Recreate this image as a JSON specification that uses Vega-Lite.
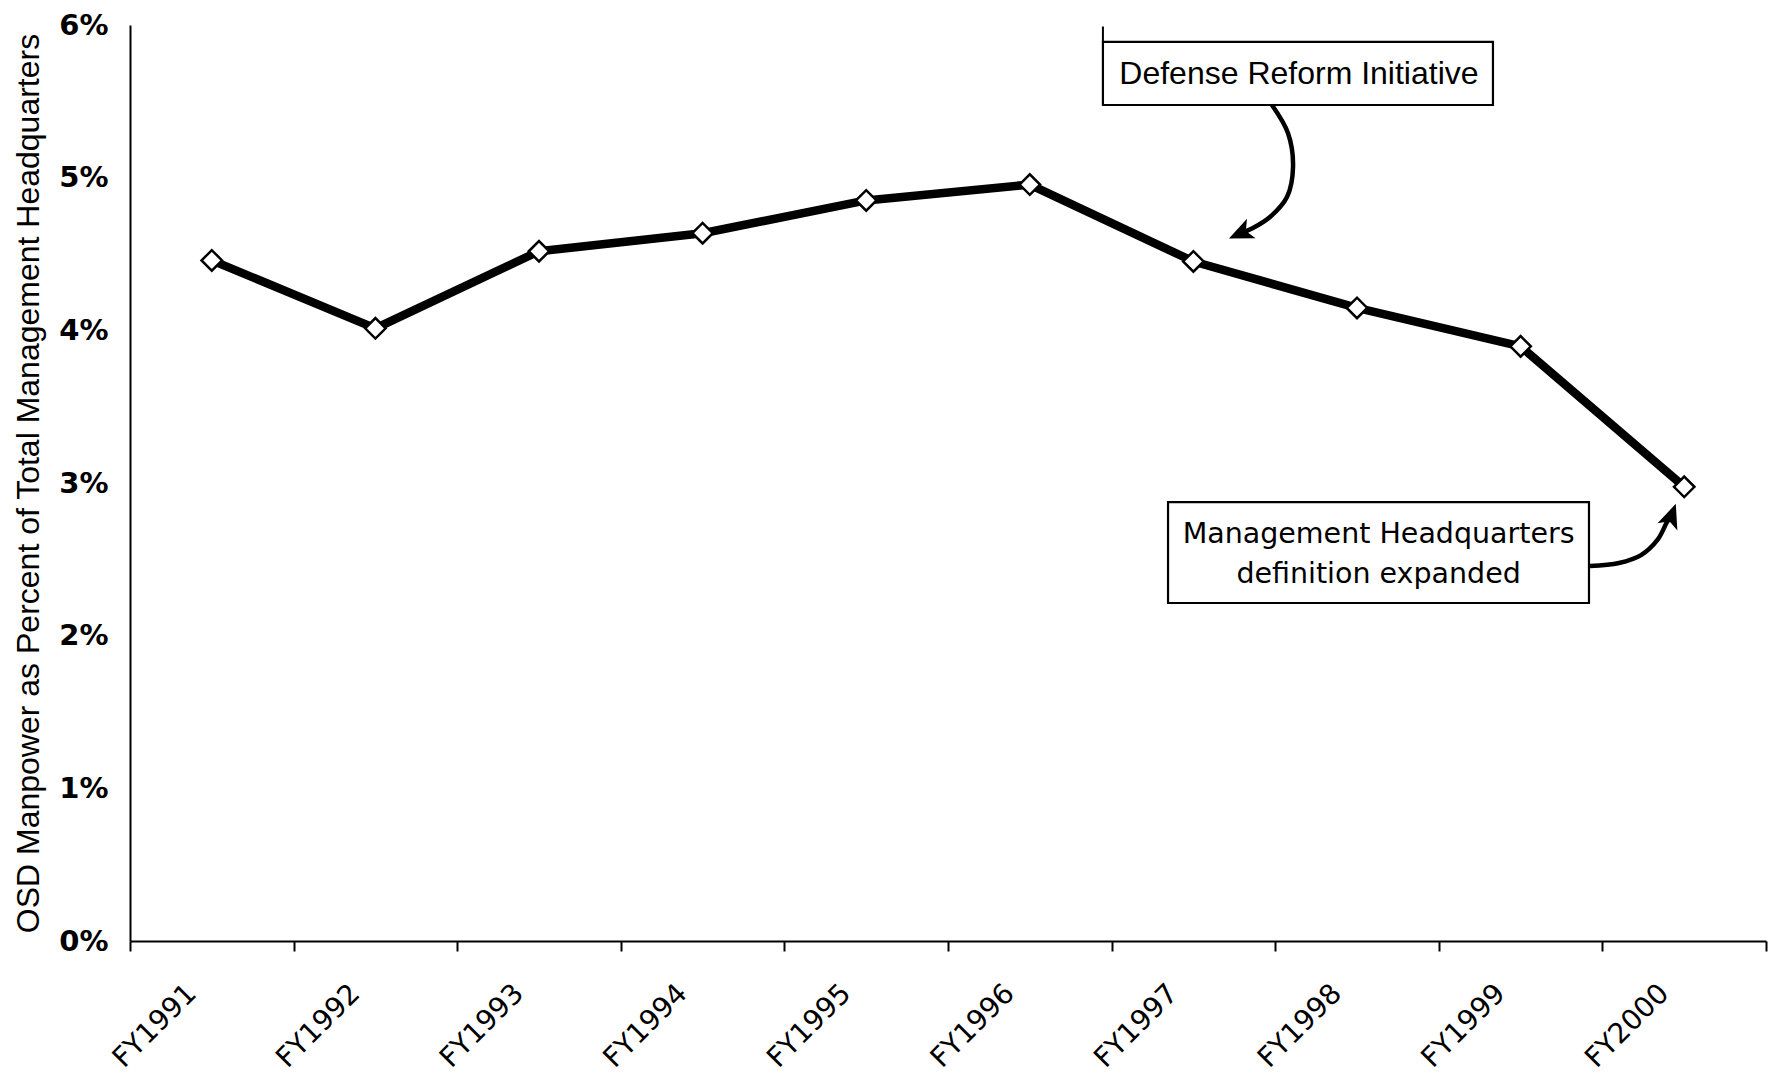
{
  "$schema": "https://vega.github.io/schema/vega-lite/v6.json",
  "width": 1636,
  "height": 916,
  "autosize": "none",
  "padding": {"left": 130, "top": 25, "right": 9, "bottom": 147},
  "background": "white",
  "config": {
    "view": {"stroke": null},
    "axis": {"grid": false, "domainColor": "black", "tickColor": "black", "labelColor": "black", "titleColor": "black"}
  },
  "datasets": {
    "share": [
      {"year": "FY1991", "pct": 0.04458},
      {"year": "FY1992", "pct": 0.04013},
      {"year": "FY1993", "pct": 0.04518},
      {"year": "FY1994", "pct": 0.04636},
      {"year": "FY1995", "pct": 0.04851},
      {"year": "FY1996", "pct": 0.04955},
      {"year": "FY1997", "pct": 0.04451},
      {"year": "FY1998", "pct": 0.04147},
      {"year": "FY1999", "pct": 0.03895},
      {"year": "FY2000", "pct": 0.02975}
    ],
    "boxes": [
      {"note": "dri", "x0": 5.947, "x1": 8.331, "y0": 0.05476, "y1": 0.05889},
      {"note": "mhq", "x0": 6.345, "x1": 8.918, "y0": 0.02214, "y1": 0.02875}
    ],
    "captions": [
      {"note": "dri", "tx": 7.145, "ty": 0.05679, "label": "Defense Reform Initiative"},
      {"note": "mhq", "tx": 7.632, "ty": 0.02666, "label": "Management Headquarters"},
      {"note": "mhq", "tx": 7.632, "ty": 0.02404, "label": "definition expanded"}
    ],
    "arrows": [
      {"note": "dri", "step": 1, "ax": 6.980, "ay": 0.05476},
      {"note": "dri", "step": 2, "ax": 7.078, "ay": 0.05292},
      {"note": "dri", "step": 3, "ax": 7.109, "ay": 0.05070},
      {"note": "dri", "step": 4, "ax": 7.072, "ay": 0.04873},
      {"note": "dri", "step": 5, "ax": 6.968, "ay": 0.04742},
      {"note": "dri", "step": 6, "ax": 6.864, "ay": 0.04670},
      {"note": "dri", "step": 7, "ax": 6.800, "ay": 0.04640},
      {"note": "mhq", "step": 1, "ax": 8.924, "ay": 0.02456},
      {"note": "mhq", "step": 2, "ax": 9.101, "ay": 0.02476},
      {"note": "mhq", "step": 3, "ax": 9.236, "ay": 0.02528},
      {"note": "mhq", "step": 4, "ax": 9.340, "ay": 0.02633},
      {"note": "mhq", "step": 5, "ax": 9.395, "ay": 0.02744},
      {"note": "mhq", "step": 6, "ax": 9.418, "ay": 0.02775}
    ],
    "heads": [
      {"note": "dri", "hx": 6.791, "hy": 0.04637},
      {"note": "mhq", "hx": 9.421, "hy": 0.02782}
    ],
    "edge": [
      {"ex": 5.947, "ey0": 0.05889, "ey1": 0.05990}
    ]
  },
  "layer": [
    {
      "layer": [
        {
          "data": {"name": "edge"},
          "mark": {"type": "rule", "color": "black", "strokeWidth": 2},
          "encoding": {
            "x": {"field": "ex", "type": "quantitative", "scale": {"domain": [0, 10], "nice": false, "zero": false}, "axis": null},
            "y": {"field": "ey0", "type": "quantitative"},
            "y2": {"field": "ey1"}
          }
        },
        {
          "data": {"name": "boxes"},
          "mark": {"type": "rect", "fill": "white", "stroke": "black", "strokeWidth": 2.2},
          "encoding": {
            "x": {"field": "x0", "type": "quantitative", "scale": {"domain": [0, 10], "nice": false, "zero": false}, "axis": null},
            "x2": {"field": "x1"},
            "y": {"field": "y0", "type": "quantitative"},
            "y2": {"field": "y1"}
          }
        },
        {
          "data": {"name": "captions"},
          "transform": [{"filter": "datum.note === 'dri'"}],
          "mark": {"type": "text", "font": "Liberation Sans", "fontSize": 32, "color": "black", "align": "center", "baseline": "middle"},
          "encoding": {
            "x": {"field": "tx", "type": "quantitative", "scale": {"domain": [0, 10], "nice": false, "zero": false}, "axis": null},
            "y": {"field": "ty", "type": "quantitative"},
            "text": {"field": "label"}
          }
        },
        {
          "data": {"name": "captions"},
          "transform": [{"filter": "datum.note === 'mhq'"}],
          "mark": {"type": "text", "font": "DejaVu Sans", "fontSize": 28.5, "color": "black", "align": "center", "baseline": "middle"},
          "encoding": {
            "x": {"field": "tx", "type": "quantitative", "scale": {"domain": [0, 10], "nice": false, "zero": false}, "axis": null},
            "y": {"field": "ty", "type": "quantitative"},
            "text": {"field": "label"}
          }
        },
        {
          "data": {"name": "arrows"},
          "mark": {"type": "line", "color": "black", "strokeWidth": 4.5, "interpolate": "catmull-rom"},
          "encoding": {
            "x": {"field": "ax", "type": "quantitative", "scale": {"domain": [0, 10], "nice": false, "zero": false}, "axis": null},
            "y": {"field": "ay", "type": "quantitative"},
            "detail": {"field": "note"},
            "order": {"field": "step"}
          }
        },
        {
          "data": {"name": "heads"},
          "transform": [{"filter": "datum.note === 'dri'"}],
          "mark": {"type": "point", "shape": "M0,-1L0.8,0.85L0,0.4L-0.8,0.85Z", "filled": true, "color": "black", "opacity": 1, "size": 700, "angle": 246},
          "encoding": {
            "x": {"field": "hx", "type": "quantitative", "scale": {"domain": [0, 10], "nice": false, "zero": false}, "axis": null},
            "y": {"field": "hy", "type": "quantitative"}
          }
        },
        {
          "data": {"name": "heads"},
          "transform": [{"filter": "datum.note === 'mhq'"}],
          "mark": {"type": "point", "shape": "M0,-1L0.8,0.85L0,0.4L-0.8,0.85Z", "filled": true, "color": "black", "opacity": 1, "size": 700, "angle": 20},
          "encoding": {
            "x": {"field": "hx", "type": "quantitative", "scale": {"domain": [0, 10], "nice": false, "zero": false}, "axis": null},
            "y": {"field": "hy", "type": "quantitative"}
          }
        }
      ]
    },
    {
      "data": {"name": "share"},
      "encoding": {
        "x": {
          "field": "year",
          "type": "nominal",
          "sort": null,
          "scale": {"type": "band", "paddingInner": 0, "paddingOuter": 0},
          "axis": {
            "title": null,
            "tickBand": "extent",
            "tickSize": 10,
            "tickWidth": 2,
            "domainWidth": 2,
            "labelAngle": -45,
            "labelAlign": "right",
            "labelBaseline": "top",
            "labelPadding": 28,
            "labelOffset": -30,
            "labelFont": "DejaVu Sans",
            "labelFontSize": 28
          }
        },
        "y": {
          "field": "pct",
          "type": "quantitative",
          "scale": {"domain": [0, 0.06], "nice": false},
          "axis": {
            "title": "OSD Manpower as Percent of Total Management Headquarters",
            "values": [0, 0.01, 0.02, 0.03, 0.04, 0.05, 0.06],
            "format": ".0%",
            "ticks": false,
            "domainWidth": 2,
            "labelPadding": 22,
            "labelFont": "DejaVu Sans",
            "labelFontWeight": "bold",
            "labelFontSize": 29,
            "labelBaseline": "middle",
            "titleFont": "Liberation Sans",
            "titleFontSize": 32,
            "titleFontWeight": "normal",
            "titleAngle": 270,
            "titleAlign": "center",
            "titleBaseline": "middle",
            "titleX": -102,
            "titleY": 458
          }
        }
      },
      "layer": [
        {"mark": {"type": "line", "color": "black", "strokeWidth": 8.5, "strokeJoin": "round"}},
        {"mark": {"type": "point", "shape": "diamond", "filled": true, "fill": "white", "stroke": "black", "strokeWidth": 2.5, "size": 420, "opacity": 1}}
      ]
    }
  ],
  "resolve": {"scale": {"x": "independent"}}
}
